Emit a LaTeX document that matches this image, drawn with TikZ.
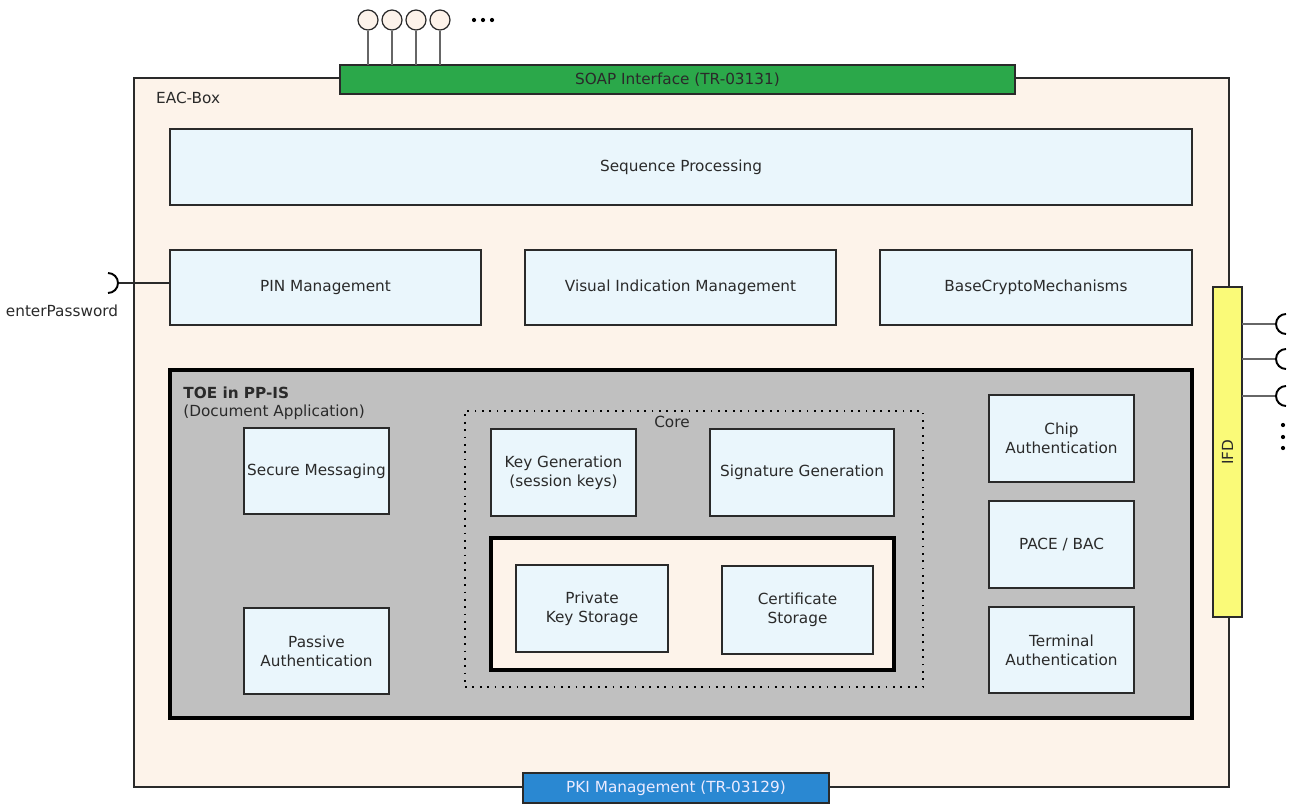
\documentclass[tikz,border=0pt]{standalone}
\usepackage{fontspec}
\setmainfont{DejaVu Sans}
\usepackage{xcolor}
\usepackage{tikz}

\definecolor{peach}{HTML}{FDF3EA}
\definecolor{blockfill}{HTML}{EAF6FC}
\definecolor{toegray}{HTML}{C0C0C0}
\definecolor{soapgreen}{HTML}{2BA84A}
\definecolor{pkiblue}{HTML}{2A88D2}
\definecolor{ifdyellow}{HTML}{FAFA78}
\definecolor{edge}{HTML}{2A2A2A}

\tikzset{
    sz/.style 2 args={minimum width=#1*0.02cm, minimum height=#2*0.02cm},
    blk/.style={draw=edge, fill=blockfill, line width=0.8pt, align=center, inner sep=1pt, outer sep=0pt, text=edge},
    bar/.style={draw=edge, line width=0.8pt, inner sep=1pt, outer sep=0pt},
    pin/.style={circle, draw=edge, fill=peach, line width=0.7pt, minimum size=0.4cm, inner sep=0pt},
    stem/.style={draw=gray!80!black, line width=0.6pt},
    socket/.style={draw=black, line width=1.1pt}
}

\begin{document}
\begin{tikzpicture}[x=0.02cm, y=-0.02cm, font=\fontsize{8.7}{10.8}\selectfont]
        \useasboundingbox (0,0) rectangle (1291,808);

        % EAC-Box
        \node[bar, fill=peach, sz={1095}{709}] (eac) at (681.5,432.5) {};
        \node[anchor=west, text=edge] (eaclbl) at (150,98) {EAC-Box};

        % Interfacce in alto e in basso
        \node[bar, fill=soapgreen, sz={675}{29}, text=edge] (soap) at (677.5,79.5) {SOAP Interface (TR-03131)};
        \node[bar, fill=pkiblue, sz={306}{30}, text=blue!8] (pki) at (676,788) {PKI Management (TR-03129)};

        % Pin sopra la SOAP
        \foreach \x [count=\i] in {368,392,416,440} {
            \node[pin] (p\i) at (\x,20) {};
            \draw[stem] (p\i.south) -- (p\i.south |- soap.north);
        }
        \foreach \x in {474,483,492} \fill[black] (\x,20) circle (1.2pt);

        % Blocchi superiori
        \node[blk, sz={1022}{76}] (seq) at (681,167) {Sequence Processing};
        \node[blk, sz={311}{75}] (pinm) at (325.5,287.5) {PIN Management};
        \node[blk, sz={311}{75}] (vis) at (680.5,287.5) {Visual Indication Management};
        \node[blk, sz={312}{75}] (crypto) at (1036,287.5) {BaseCryptoMechanisms};

        % enterPassword
        \coordinate (sk0) at (118,283);
        \draw[stem, draw=edge] (sk0) -- (sk0 -| pinm.west);
        \draw[socket] (sk0) arc[start angle=0, end angle=90, radius=10];
        \draw[socket] (sk0) arc[start angle=0, end angle=-90, radius=10];
        \node[text=edge] (pwd) at (62,311) {enterPassword};

        % IFD
        \node[bar, fill=ifdyellow, sz={29}{330}] (ifd) at (1227.5,452) {};
        \node[rotate=90, text=edge] (ifdlbl) at (ifd) {IFD};
        \foreach \y [count=\i] in {324,359,396} {
            \coordinate (sk\i) at (1276,\y);
            \draw[stem] (ifd.east |- sk\i) -- (sk\i);
            \draw[socket] (sk\i) arc[start angle=180, end angle=90, radius=10];
            \draw[socket] (sk\i) arc[start angle=180, end angle=270, radius=10];
        }
        \foreach \y in {425,437,448} \fill[black] (1283,\y) circle (1.2pt);

        % TOE
        \node[draw=black, fill=toegray, line width=2.4pt, sz={1022}{348}, outer sep=0pt] (toe) at (681,544) {};
        \node[anchor=west, font=\fontsize{8.7}{10.8}\selectfont\bfseries, text=edge, inner sep=0pt] (toelbl) at (183,393) {TOE in PP-IS};
        \node[anchor=west, text=edge, inner sep=0pt] (toesub) at (183,412) {(Document Application)};

        \node[blk, sz={145}{86}] (sm) at (316.5,471) {Secure Messaging};
        \node[blk, sz={145}{86}] (pa) at (316.5,651) {Passive\\Authentication};

        % Core
        \node[draw=black, dash pattern=on 1pt off 3.2pt, line width=1pt, sz={458}{276}, outer sep=0pt] (core) at (694,549) {};
        \node[text=edge] (corelbl) at (672,422) {Core};
        \node[blk, sz={145}{87}] (keygen) at (563.5,472.5) {Key Generation\\(session keys)};
        \node[blk, sz={184}{87}] (sig) at (802,472.5) {Signature Generation};
        \node[draw=black, fill=peach, line width=2.4pt, sz={403}{132}, outer sep=0pt] (store) at (692.5,604) {};
        \node[blk, sz={152}{87}] (pks) at (592,608.5) {Private\\Key Storage};
        \node[blk, sz={151}{88}] (cs) at (797.5,610) {Certificate\\Storage};

        % Autenticazioni
        \node[blk, sz={145}{87}] (chip) at (1061.5,438.5) {Chip\\Authentication};
        \node[blk, sz={145}{87}] (pace) at (1061.5,544.5) {PACE / BAC};
        \node[blk, sz={145}{86}] (term) at (1061.5,650) {Terminal\\Authentication};
    \end{tikzpicture}
\end{document}
